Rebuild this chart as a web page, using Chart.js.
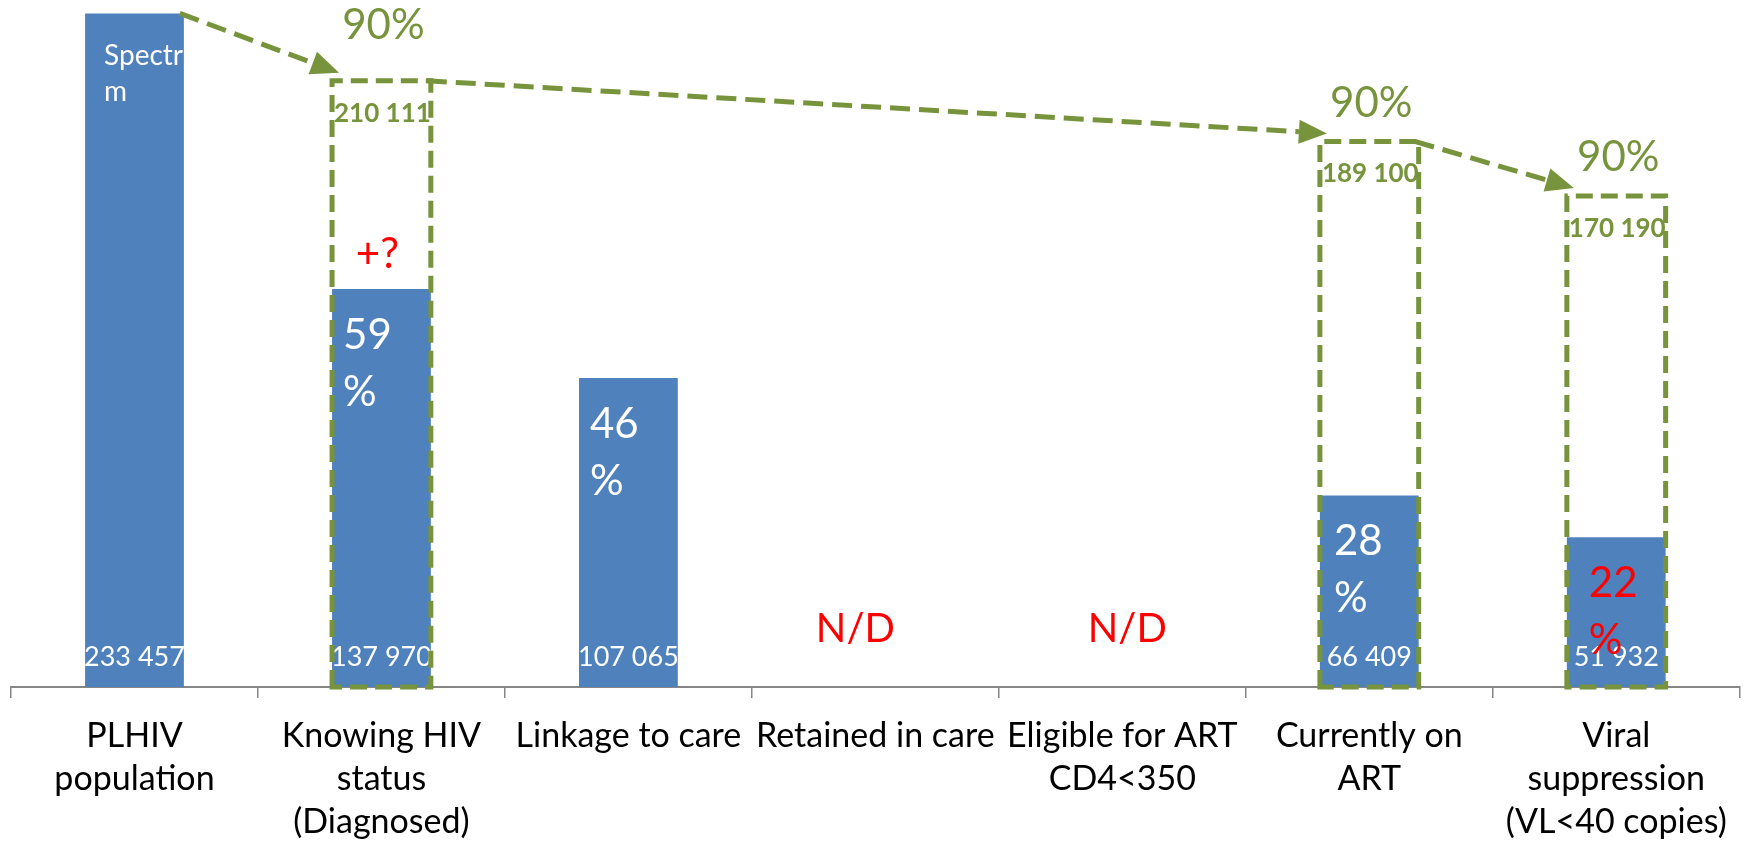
<!DOCTYPE html>
<html><head><meta charset="utf-8">
<script src="https://cdn.jsdelivr.net/npm/chart.js@4/dist/chart.umd.min.js"></script>
<style>html,body{margin:0;padding:0;background:#fff;overflow:hidden}#wrap{width:1744px;height:846px}</style>
</head><body><div id="wrap"><canvas id="c" width="1744" height="846"></canvas></div>
<script>
// ---- data ----
const categories = [["PLHIV","population"],["Knowing HIV","status","(Diagnosed)"],["Linkage to care"],["Retained in care"],["Eligible for ART","CD4<350"],["Currently on","ART"],["Viral","suppression","(VL<40 copies)"]];
const counts = [233457, 137970, 107065, null, null, 66409, 51932];
const countLabels = ["233 457","137 970","107 065",null,null,"66 409","51 932"];
const percentLabels = [null,"59","46",null,null,"28","22"];
const targets = [null,210111,null,null,null,189100,170190];
const targetLabels = [null,"210 111",null,null,null,"189 100","170 190"];
const targetPercents = [null,"90%",null,null,null,"90%","90%"];
const missingLabels = [null,null,null,"N/D","N/D",null,null];
const pendingMarks = [null,"+?",null,null,null,null,null];
const sourceLines = ["Spectru","m"];
const arrowLinks = [[0,1],[1,5],[5,6]];

// ---- styles ----
const BLUE = '#4F81BD', GREEN = '#77933C', RED = '#FF0000', AXIS = '#868686';
const FONT = 'Lato, "Noto Sans", sans-serif';
const pctColors = ['#fff','#fff','#fff','#fff','#fff','#fff',RED];
const pctDx = [0,11,11,0,0,14,22];
const targetPctLift = [0,55,0,0,0,38,38];
const missingDx = [0,0,0,-20,5,0,0];

const overlay = {
  id: 'overlay',
  afterDatasetsDraw(chart) {
    const ctx = chart.ctx, xs = chart.scales.x, ys = chart.scales.y;
    const meta = chart.getDatasetMeta(0);
    const base = ys.getPixelForValue(0);
    const barW = meta.data[0].width;
    const cxOf = i => xs.getPixelForValue(i);
    const leftOf = i => cxOf(i) - barW / 2;
    const rightOf = i => cxOf(i) + barW / 2;
    const topOf = i => ys.getPixelForValue(counts[i]);
    const boxTop = i => ys.getPixelForValue(targets[i]);
    ctx.save();
    // source text on first bar (clipped to bar)
    ctx.save();
    ctx.beginPath();
    ctx.rect(leftOf(0), topOf(0), barW, base - topOf(0));
    ctx.clip();
    ctx.fillStyle = '#fff';
    ctx.font = '28px ' + FONT;
    ctx.textAlign = 'left'; ctx.textBaseline = 'alphabetic';
    sourceLines.forEach((t, k) => ctx.fillText(t, leftOf(0) + 19, topOf(0) + 52 + k * 36));
    ctx.restore();
    // count labels
    ctx.font = '27px ' + FONT;
    ctx.textAlign = 'center'; ctx.textBaseline = 'middle'; ctx.fillStyle = '#fff';
    countLabels.forEach((t, i) => { if (t) ctx.fillText(t, cxOf(i), base - 30); });
    // percent labels
    ctx.font = '42px ' + FONT;
    ctx.textAlign = 'left'; ctx.textBaseline = 'alphabetic';
    percentLabels.forEach((t, i) => {
      if (!t) return;
      ctx.fillStyle = pctColors[i];
      const lx = leftOf(i) + pctDx[i], t0 = topOf(i);
      ctx.fillText(t, lx, t0 + 60);
      ctx.fillText('%', lx, t0 + 117);
    });
    // pending marks
    ctx.font = '42px ' + FONT; ctx.fillStyle = RED; ctx.textAlign = 'center'; ctx.textBaseline = 'middle';
    pendingMarks.forEach((t, i) => { if (t) ctx.fillText(t, cxOf(i) - 4, topOf(i) - 34); });
    // missing
    ctx.font = '40px ' + FONT;
    missingLabels.forEach((t, i) => { if (t) ctx.fillText(t, cxOf(i) + missingDx[i], base - 58); });
    // target boxes
    ctx.strokeStyle = GREEN; ctx.lineWidth = 5; ctx.setLineDash([17, 8]);
    targets.forEach((v, i) => {
      if (v == null) return;
      const l = leftOf(i), r = rightOf(i), t = boxTop(i);
      ctx.beginPath();
      ctx.moveTo(l, base); ctx.lineTo(l, t); ctx.lineTo(r, t); ctx.lineTo(r, base); ctx.closePath();
      ctx.stroke();
    });
    // target labels
    ctx.fillStyle = GREEN; ctx.textAlign = 'center';
    ctx.font = 'bold 26px ' + FONT; ctx.textBaseline = 'alphabetic';
    targetLabels.forEach((t, i) => { if (t) ctx.fillText(t, cxOf(i) + 1, boxTop(i) + 41); });
    ctx.font = '42px ' + FONT; ctx.textBaseline = 'middle';
    targetPercents.forEach((t, i) => { if (t) ctx.fillText(t, cxOf(i) + 2, boxTop(i) - targetPctLift[i]); });
    // arrows
    ctx.setLineDash([20, 9]); ctx.lineWidth = 5;
    arrowLinks.forEach(([a, b]) => {
      const sx = rightOf(a) - 4, sy = targets[a] != null ? boxTop(a) : topOf(a);
      const tx = leftOf(b) + 7, ty = boxTop(b) - 8;
      const ang = Math.atan2(ty - sy, tx - sx);
      const hl = 28, hw = 12;
      const bx = tx - hl * Math.cos(ang), by = ty - hl * Math.sin(ang);
      ctx.beginPath(); ctx.moveTo(sx, sy); ctx.lineTo(bx, by); ctx.stroke();
      ctx.beginPath();
      ctx.moveTo(tx, ty);
      ctx.lineTo(bx + hw * Math.sin(ang), by - hw * Math.cos(ang));
      ctx.lineTo(bx - hw * Math.sin(ang), by + hw * Math.cos(ang));
      ctx.closePath(); ctx.fill();
    });
    ctx.restore();
  }
};

new Chart(document.getElementById('c'), {
  type: 'bar',
  data: { labels: categories, datasets: [{ data: counts, backgroundColor: BLUE, borderWidth: 0, barPercentage: 0.4, categoryPercentage: 1 }] },
  options: {
    responsive: false, animation: false, devicePixelRatio: 1,
    layout: { padding: { left: 11, right: 3, top: 0, bottom: 0 } },
    plugins: { legend: { display: false }, tooltip: { enabled: false } },
    scales: {
      x: {
        offset: true,
        grid: { offset: true, drawOnChartArea: false, drawTicks: true, tickLength: 11, color: AXIS, lineWidth: 1.5 },
        border: { display: true, color: AXIS, width: 2 },
        ticks: { color: '#000', font: { family: FONT, size: 34, lineHeight: 1.265 }, maxRotation: 0, minRotation: 0, autoSkip: false, padding: 17 },
        afterFit(s) { s.height = 159; }
      },
      y: { display: false, min: 0, max: 238100 }
    }
  },
  plugins: [overlay]
});
</script>
</body></html>
